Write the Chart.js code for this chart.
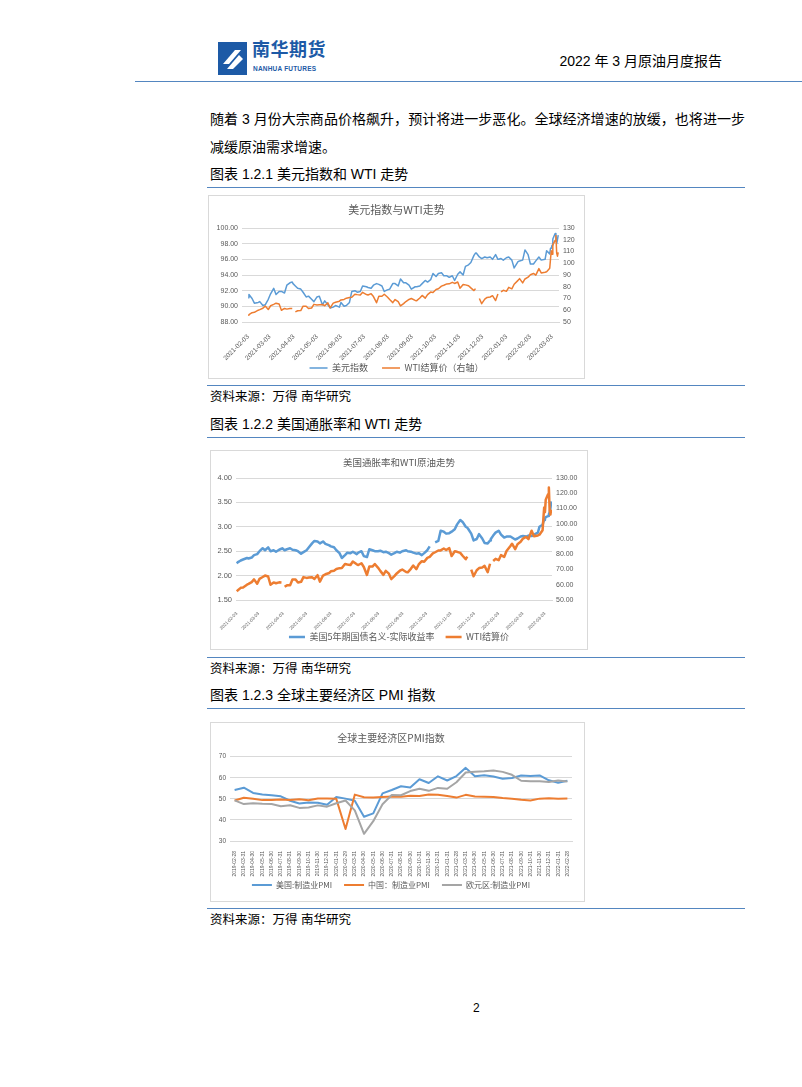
<!DOCTYPE html>
<html lang="zh-CN">
<head>
<meta charset="utf-8">
<title>2022年3月原油月度报告</title>
<script src="https://cdn.jsdelivr.net/npm/chart.js@4.4.1/dist/chart.umd.min.js"></script>
<style>
  html, body { margin: 0; padding: 0; background: #fff; }
  body {
    width: 802px; height: 1087px; position: relative; overflow: hidden;
    font-family: "Liberation Sans", "Noto Sans CJK SC", sans-serif; color: #000;
  }
  .t { position: absolute; white-space: nowrap; line-height: 20px; }
  .rule { position: absolute; left: 207px; width: 538px; height: 0; border-top: 1.5px solid #5486c0; }
  .box { position: absolute; border: 1px solid #d9d9d9; box-sizing: border-box; }
  .chart { position: absolute; }
  .cap { font-size: 14px; left: 210px; }
  .src { font-size: 12.5px; left: 210px; }
</style>
</head>
<body>

<!-- header -->
<svg class="t" style="left:218px;top:42px" width="30" height="34" viewBox="0 0 30 34">
  <rect x="0" y="0" width="29" height="33" fill="#1d5aa6"/>
  <polygon points="5,22 17,8 23,8 11,22" fill="#fff"/>
  <polygon points="9,27 21,13 25,17 15,27" fill="#fff"/>
</svg>
<div class="t" style="left:252px;top:40px;font-size:18px;font-weight:bold;color:#1d5aa6;letter-spacing:0.5px">南华期货</div>
<div class="t" style="left:253px;top:59px;font-size:6.5px;font-weight:bold;color:#1d5aa6;letter-spacing:0.2px">NANHUA FUTURES</div>
<div class="t" style="right:80px;top:51px;font-size:14px">2022 年 3 月原油月度报告</div>
<div style="position:absolute;left:135px;top:81px;width:667px;border-top:1.5px solid #5486c0"></div>

<!-- body text -->
<div class="t" style="left:210px;top:109px;width:535px;font-size:14px;text-align:justify;text-align-last:justify">随着 3 月份大宗商品价格飙升，预计将进一步恶化。全球经济增速的放缓，也将进一步</div>
<div class="t" style="left:210px;top:137px;font-size:14px">减缓原油需求增速。</div>

<div class="t cap" style="top:164px">图表 1.2.1 美元指数和 WTI 走势</div>
<div class="rule" style="top:187px"></div>
<div class="box" style="left:208px;top:195px;width:377px;height:184px"></div>
<div class="chart" style="left:208px;top:195px;width:377px;height:184px"><canvas id="dollarWti"></canvas></div>
<div class="rule" style="top:385px"></div>
<div class="t src" style="top:387px">资料来源：万得 南华研究</div>

<div class="t cap" style="top:414px">图表 1.2.2 美国通胀率和 WTI 走势</div>
<div class="rule" style="top:437px"></div>
<div class="box" style="left:210px;top:450px;width:378px;height:200px"></div>
<div class="chart" style="left:210px;top:450px;width:378px;height:200px"><canvas id="inflationWti"></canvas></div>
<div class="rule" style="top:657px"></div>
<div class="t src" style="top:659px">资料来源：万得 南华研究</div>

<div class="t cap" style="top:685px">图表 1.2.3 全球主要经济区 PMI 指数</div>
<div class="rule" style="top:708px"></div>
<div class="box" style="left:210px;top:722px;width:375px;height:180px"></div>
<div class="chart" style="left:210px;top:722px;width:375px;height:180px"><canvas id="pmi"></canvas></div>
<div class="rule" style="top:908px"></div>
<div class="t src" style="top:910px">资料来源：万得 南华研究</div>

<div class="t" style="left:473px;top:998px;font-size:12px">2</div>

<script>
// 日度数据（美元指数 / WTI / 5年期盈亏平衡通胀率），null = 休市缺口
const tradeDates = [
  '2021-02-03','2021-02-04','2021-02-08','2021-02-11','2021-02-16','2021-02-18','2021-02-22','2021-02-25',
  '2021-03-01','2021-03-04','2021-03-08','2021-03-11','2021-03-15','2021-03-18','2021-03-22','2021-03-25','2021-03-29',
  '2021-04-01','2021-04-02','2021-04-05','2021-04-08','2021-04-12','2021-04-15','2021-04-19','2021-04-22','2021-04-26','2021-04-29',
  '2021-05-03','2021-05-06','2021-05-10','2021-05-13','2021-05-17','2021-05-20','2021-05-24','2021-05-27',
  '2021-06-01','2021-06-03','2021-06-07','2021-06-10','2021-06-14','2021-06-17','2021-06-21','2021-06-24','2021-06-28',
  '2021-07-01','2021-07-06','2021-07-08','2021-07-12','2021-07-15','2021-07-19','2021-07-22','2021-07-26','2021-07-29',
  '2021-08-02','2021-08-05','2021-08-09','2021-08-12','2021-08-16','2021-08-19','2021-08-23','2021-08-26','2021-08-30',
  '2021-09-02','2021-09-07','2021-09-09','2021-09-13','2021-09-16','2021-09-20','2021-09-23','2021-09-27','2021-09-30',
  '2021-10-04','2021-10-07','2021-10-11','2021-10-14','2021-10-18','2021-10-21','2021-10-25','2021-10-28',
  '2021-11-01','2021-11-04','2021-11-08','2021-11-11','2021-11-15','2021-11-18','2021-11-22','2021-11-24','2021-11-25','2021-11-29',
  '2021-12-02','2021-12-06','2021-12-09','2021-12-13','2021-12-16','2021-12-20','2021-12-23','2021-12-24','2021-12-27','2021-12-30',
  '2022-01-03','2022-01-06','2022-01-10','2022-01-13','2022-01-18','2022-01-20','2022-01-24','2022-01-27','2022-01-31',
  '2022-02-03','2022-02-07','2022-02-10','2022-02-14','2022-02-17','2022-02-22','2022-02-24','2022-02-28',
  '2022-03-01','2022-03-02','2022-03-03','2022-03-04','2022-03-07','2022-03-08','2022-03-09','2022-03-10','2022-03-11'
];
const dollarIndex = [
  91.1, 91.5, 91.0, 90.4, 90.5, 90.6, 90.1, 90.2,
  90.9, 91.6, 92.3, 91.5, 91.9, 91.9, 91.7, 92.7, 93.0,
  93.1, 92.9, 92.6, 92.3, 92.2, 91.8, 91.2, 91.3, 90.9, 90.6,
  91.2, 91.3, 90.2, 90.7, 90.2, 89.8, 89.9, 90.1,
  89.9, 90.5, 90.0, 90.1, 90.5, 91.9, 92.0, 91.8, 91.9,
  92.6, 92.5, 92.4, 92.3, 92.7, 92.9, 92.8, 92.6, 91.9,
  92.1, 92.2, 92.9, 92.9, 92.6, 93.5, 93.0, 93.0, 92.7,
  92.2, 92.5, 92.5, 92.6, 92.9, 93.3, 93.1, 93.4, 94.2,
  93.8, 94.2, 94.3, 93.9, 93.9, 93.7, 93.9, 93.3,
  94.1, 94.4, 94.0, 95.1, 95.3, 95.6, 96.5, 96.8, 96.8, 96.3,
  96.1, 96.3, 96.2, 96.3, 96.0, 96.6, 96.0, 96.0, 96.1, 95.9,
  96.2, 96.3, 95.9, 94.9, 95.7, 95.8, 95.9, 97.2, 96.6,
  95.4, 95.4, 95.8, 96.3, 95.9, 96.0, 97.1, 96.7,
  97.4, 97.4, 97.8, 98.6, 99.3, 99.1, 98.0, 98.5, 99.1
];
const wtiSettle = [
  55.69, 56.23, 57.97, 58.24, 60.05, 60.52, 61.70, 63.53,
  60.64, 63.83, 65.05, 66.02, 65.39, 60.00, 61.55, 60.97, 61.56,
  61.45, null, 58.65, 59.60, 59.70, 63.46, 63.38, 61.43, 61.91, 65.01,
  64.49, 64.71, 64.92, 63.82, 66.27, 62.05, 66.05, 66.85,
  67.72, 68.81, 69.23, 70.29, 70.88, 71.04, 73.66, 73.30, 72.91,
  75.23, 73.37, 72.94, 74.10, 71.65, 66.42, 71.91, 71.91, 73.62,
  71.26, 69.09, 66.48, 69.09, 67.29, 63.69, 65.64, 67.42, 69.21,
  69.99, 68.35, 68.14, 70.45, 72.61, 70.29, 73.30, 75.45, 75.03,
  77.62, 78.30, 80.52, 81.31, 82.44, 82.50, 83.76, 82.81,
  84.05, 78.81, 81.93, 81.59, 80.88, 79.01, 76.75, 78.39, null, 69.95,
  65.57, 69.49, 70.94, 71.29, 72.38, 68.23, 73.79, null, 75.57, 76.99,
  76.08, 79.46, 78.23, 82.12, 85.43, 86.90, 83.31, 86.61, 88.15,
  90.27, 91.32, 89.88, 95.46, 91.76, 92.35, 92.81, 95.72,
  103.41, 110.60, 107.67, 115.68, 119.40, 123.70, 108.70, 106.02, 109.33
];
const breakeven5y = [
  2.25, 2.27, 2.31, 2.33, 2.36, 2.35, 2.37, 2.42,
  2.44, 2.50, 2.56, 2.52, 2.58, 2.50, 2.52, 2.49, 2.53,
  2.55, 2.56, 2.52, 2.54, 2.56, 2.53, 2.52, 2.50, 2.45, 2.48,
  2.52, 2.58, 2.66, 2.71, 2.70, 2.66, 2.70, 2.65,
  2.62, 2.60, 2.58, 2.52, 2.46, 2.36, 2.42, 2.47, 2.46,
  2.49, 2.44, 2.47, 2.50, 2.40, 2.38, 2.54, 2.52, 2.50,
  2.50, 2.51, 2.48, 2.49, 2.46, 2.43, 2.46, 2.49, 2.47,
  2.50, 2.52, 2.50, 2.49, 2.47, 2.45, 2.46, 2.42, 2.46,
  2.52, 2.60, null, 2.68, 2.71, 2.92, 2.90, 2.86,
  2.87, 2.90, 2.95, 3.05, 3.14, 3.10, 3.00, 2.98, 2.96, 2.86,
  2.72, 2.75, 2.85, 2.76, 2.67, 2.66, 2.72, 2.75, 2.82, 2.88,
  2.92, 2.84, 2.78, 2.80, 2.80, 2.78, 2.74, 2.76, 2.80,
  2.81, 2.80, 2.82, 2.81, 2.84, 2.88, 3.00, 3.04,
  3.10, 3.14, 3.16, 3.20, 3.22, 3.26, 3.30, 3.38, 3.52
];
const monthTicks = [
  '2021-02-03','2021-03-03','2021-04-03','2021-05-03','2021-06-03','2021-07-03','2021-08-03',
  '2021-09-03','2021-10-03','2021-11-03','2021-12-03','2022-01-03','2022-02-03','2022-03-03'
];

// 月度 PMI
const pmiMonths = [
  '2019-02-28','2019-03-31','2019-04-30','2019-05-31','2019-06-30','2019-07-31','2019-08-31','2019-09-30',
  '2019-10-31','2019-11-30','2019-12-31','2020-01-31','2020-02-29','2020-03-31','2020-04-30','2020-05-31',
  '2020-06-30','2020-07-31','2020-08-31','2020-09-30','2020-10-31','2020-11-30','2020-12-31','2021-01-31',
  '2021-02-28','2021-03-31','2021-04-30','2021-05-31','2021-06-30','2021-07-31','2021-08-31','2021-09-30',
  '2021-10-31','2021-11-30','2021-12-31','2022-01-31','2022-02-28'
];
const usPmi = [54.2, 55.3, 52.8, 52.1, 51.7, 51.2, 49.1, 47.8, 48.3, 48.1, 47.2, 50.9, 50.1, 49.1, 41.5, 43.1,
  52.6, 54.2, 56.0, 55.4, 59.3, 57.5, 60.7, 58.7, 60.8, 64.7, 60.7, 61.2, 60.6, 59.5, 59.9, 61.1, 60.8, 61.1, 58.8, 57.6, 58.6];
const chinaPmi = [49.2, 50.5, 50.1, 49.4, 49.4, 49.7, 49.5, 49.8, 49.3, 50.2, 50.2, 50.0, 35.7, 52.0, 50.8, 50.6,
  50.9, 51.1, 51.0, 51.5, 51.4, 52.1, 51.9, 51.3, 50.6, 51.9, 51.1, 51.0, 50.9, 50.4, 50.1, 49.6, 49.2, 50.1, 50.3, 50.1, 50.2];
const euroPmi = [49.3, 47.5, 47.9, 47.7, 47.6, 46.5, 47.0, 45.7, 45.9, 46.9, 46.3, 47.9, 49.2, 44.5, 33.4, 39.4,
  47.4, 51.8, 51.7, 53.7, 54.8, 53.8, 55.2, 54.8, 57.9, 62.5, 62.9, 63.1, 63.4, 62.8, 61.4, 58.6, 58.3, 58.4, 58.0, 58.7, 58.2];

const BLUE = '#5b9bd5', ORANGE = '#ed7d31', GREY = '#a5a5a5';
const TXT = '#595959', GRID = '#d9d9d9';
const FONT = '"Liberation Sans", "Noto Sans CJK SC", sans-serif';
const CJK = '"Noto Sans CJK SC", sans-serif';

const base = Date.parse('2021-02-03');
const dayNo = s => Math.round((Date.parse(s) - base) / 86400000);
const toXY = vals => tradeDates.map((d, i) => ({ x: dayNo(d), y: vals[i] }));
const byIndex = (a, b) => a.datasetIndex - b.datasetIndex;

// fixed axis height; labels may run past the axis box (don't clip them)
const fixHeight = h => s => { s.height = h; s._computeLabelArea = () => null; };

function dateAxis(min, max, fontSize, height) {
  return {
    type: 'linear', min, max,
    grid: { display: false },
    border: { display: true, color: GRID },
    afterBuildTicks: s => { s.ticks = monthTicks.map(t => ({ value: dayNo(t) })); },
    afterFit: fixHeight(height),
    ticks: {
      autoSkip: false, minRotation: 45, maxRotation: 45, padding: 3,
      color: TXT, font: { family: FONT, size: fontSize },
      callback: v => monthTicks.find(t => dayNo(t) === v) || ''
    }
  };
}

function valueAxis(pos, min, max, step, width, fmt, fontSize, withGrid) {
  return {
    type: 'linear', position: pos, min, max,
    grid: { display: withGrid, color: GRID, drawTicks: false },
    border: { display: false },
    afterFit: s => { s.width = width; },
    ticks: { stepSize: step, padding: 4, color: TXT, font: { family: FONT, size: fontSize }, callback: fmt }
  };
}

function legendOpts(fontSize, lineW, pad) {
  return {
    position: 'bottom',
    labels: {
      usePointStyle: true, pointStyle: 'line', pointStyleWidth: lineW, padding: pad,
      color: TXT, font: { family: CJK, size: fontSize }, sort: byIndex
    }
  };
}

function titleOpts(text, size, padTop, padBottom) {
  return { display: true, text, color: TXT, font: { family: CJK, size, weight: 'normal' }, padding: { top: padTop, bottom: padBottom } };
}

const common = {
  animation: false, responsive: true, maintainAspectRatio: false,
  elements: { point: { radius: 0 }, line: { tension: 0, borderJoinStyle: 'round' } },
  plugins: { tooltip: { enabled: false } }
};

// 图1 美元指数与WTI走势
new Chart(document.getElementById('dollarWti'), {
  type: 'line',
  data: {
    datasets: [
      { label: '美元指数', data: toXY(dollarIndex), borderColor: BLUE, borderWidth: 1.5, yAxisID: 'y', order: 0 },
      { label: 'WTI结算价（右轴）', data: toXY(wtiSettle), borderColor: ORANGE, borderWidth: 1.5, yAxisID: 'y1', order: -1 }
    ]
  },
  options: {
    ...common,
    layout: { padding: { top: 4, left: 0, right: 0, bottom: -3.5 } },
    scales: {
      x: dateAxis(-8, 402, 6.5, 27.5),
      y: valueAxis('left', 88, 100, 2, 34, v => v.toFixed(2), 7, true),
      y1: valueAxis('right', 50, 130, 10, 26, v => v, 7, false)
    },
    plugins: {
      ...common.plugins,
      title: titleOpts('美元指数与WTI走势', 11, 4, 11.8),
      legend: legendOpts(9, 18, 14)
    }
  }
});

// 图2 美国通胀率和WTI原油走势
new Chart(document.getElementById('inflationWti'), {
  type: 'line',
  data: {
    datasets: [
      { label: '美国5年期国债名义-实际收益率', data: toXY(breakeven5y), borderColor: BLUE, borderWidth: 2.5, yAxisID: 'y', order: 0 },
      { label: 'WTI结算价', data: toXY(wtiSettle), borderColor: ORANGE, borderWidth: 2.5, yAxisID: 'y1', order: -1 }
    ]
  },
  options: {
    ...common,
    layout: { padding: { top: 3, left: 0, right: 0, bottom: -1.5 } },
    scales: {
      x: dateAxis(-1, 402, 4.5, 21.5),
      y: valueAxis('left', 1.5, 4, 0.5, 26, v => v.toFixed(2), 7.5, true),
      y1: valueAxis('right', 50, 130, 10, 36, v => v.toFixed(2), 7, false)
    },
    plugins: {
      ...common.plugins,
      title: titleOpts('美国通胀率和WTI原油走势', 9.5, 4, 9.6),
      legend: legendOpts(9, 16, 11)
    }
  }
});

// 图3 全球主要经济区PMI指数
new Chart(document.getElementById('pmi'), {
  type: 'line',
  data: {
    labels: pmiMonths,
    datasets: [
      { label: '美国:制造业PMI', data: usPmi, borderColor: BLUE, borderWidth: 2, order: 0 },
      { label: '中国：制造业PMI', data: chinaPmi, borderColor: ORANGE, borderWidth: 2, order: -1 },
      { label: '欧元区:制造业PMI', data: euroPmi, borderColor: GREY, borderWidth: 2, order: -2 }
    ]
  },
  options: {
    ...common,
    layout: { padding: { top: 4, left: 0, right: 13, bottom: 3 } },
    scales: {
      x: {
        type: 'category', offset: true,
        grid: { display: false },
        border: { display: true, color: GRID },
        afterFit: fixHeight(28),
        ticks: { autoSkip: false, minRotation: 90, maxRotation: 90, padding: 2, color: TXT, font: { family: FONT, size: 5 } }
      },
      y: valueAxis('left', 30, 70, 5, 20, v => v, 6.5, true)
    },
    plugins: {
      ...common.plugins,
      title: titleOpts('全球主要经济区PMI指数', 10, 6, 12.7),
      legend: legendOpts(8, 20, 12)
    }
  }
});
</script>
</body>
</html>
